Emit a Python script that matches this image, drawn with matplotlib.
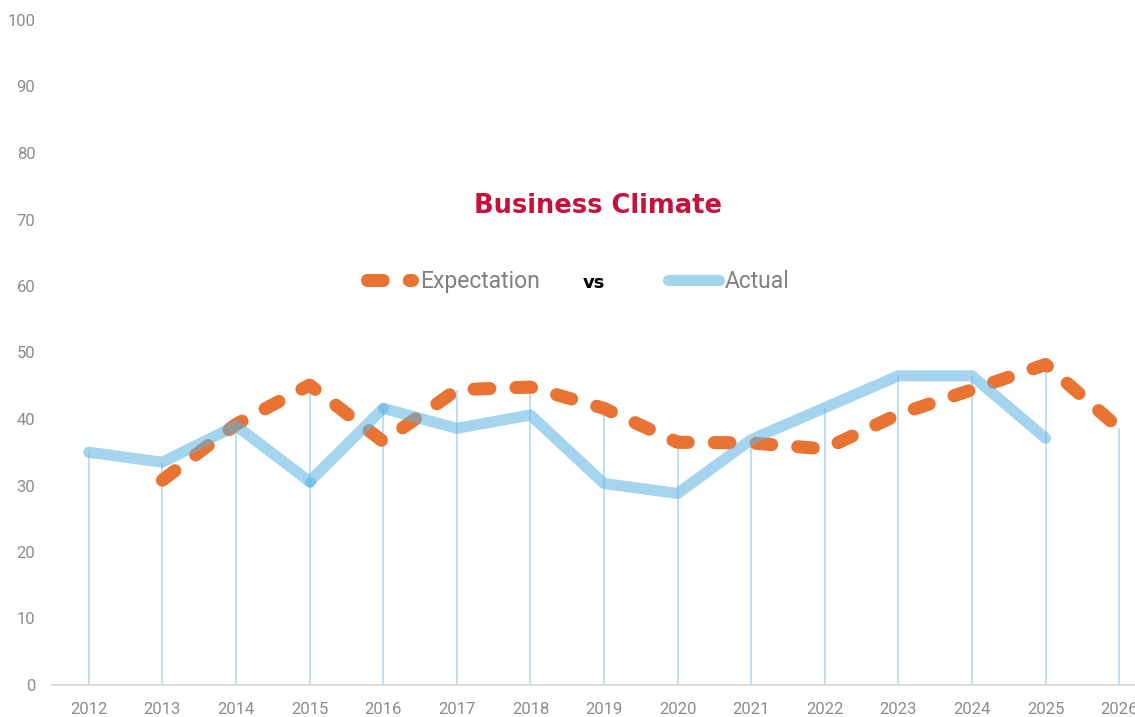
import numpy as np
import matplotlib
matplotlib.use("Agg")
import matplotlib.pyplot as plt
from matplotlib.lines import Line2D

# ---- data ----
years = list(range(2012, 2027))
actual = [35.0, 33.5, 39.0, 30.6, 41.6, 38.6, 40.6, 30.3, 28.8, 36.9, 41.7, 46.5, 46.5, 37.1, np.nan]
expectation = [np.nan, 30.8, 39.2, 45.1, 36.6, 44.4, 44.8, 41.6, 36.5, 36.4, 35.5, 40.7, 44.4, 48.2, 38.6]
highlight_years = [2015, 2016]
y_ticks = list(range(0, 101, 10))
title = "Business Climate"
label_exp = "Expectation"
label_vs = "vs"
label_act = "Actual"

# ---- style ----
ORANGE = "#E97332"
BLUE = "#5BB4E1"
BLUE_ALPHA = 0.55
DROP = "#A9D9EF"
GREY = "#8c8c8c"
TITLE_RED = "#C8103A"
LEG_FONT = ["Roboto", "DejaVu Sans"]

W, H = 1135, 717
fig = plt.figure(figsize=(W / 100, H / 100), dpi=100)
ax_left, ax_right = 52, 1135
ax_bottom, ax_top = 685, 20
ax = fig.add_axes([ax_left / W, 1 - ax_bottom / H, (ax_right - ax_left) / W, (ax_bottom - ax_top) / H])

unit = 73.6  # px per year
x0 = 2011.5
ax.set_xlim(x0, x0 + (ax_right - ax_left) / unit)
ax.set_ylim(0, 100)

x = np.array(years, dtype=float)
a = np.array(actual, dtype=float)
e = np.array(expectation, dtype=float)
top = np.fmax(a, e)

# drop lines
ax.vlines(x, 0, top, colors=DROP, lw=1.1, zorder=1)

# expectation (dashed orange)
lw_e = 9.4
ax.plot(x, e, color=ORANGE, lw=lw_e, dashes=(1.2, 2.0), dash_capstyle="round",
        solid_capstyle="round", zorder=2)

# actual (semi-transparent blue)
ax.plot(x, a, color=BLUE, alpha=BLUE_ALPHA, lw=8.0, solid_capstyle="round",
        solid_joinstyle="round", zorder=3)
hy = [a[years.index(yy)] for yy in highlight_years]
ax.plot(highlight_years, hy, "o", color=BLUE, alpha=BLUE_ALPHA, ms=8.0, mew=0, zorder=4)

# axes styling
for s in ["left", "right", "top"]:
    ax.spines[s].set_visible(False)
ax.spines["bottom"].set_color("#d9d9d9")
ax.spines["bottom"].set_linewidth(1.3)
ax.set_xticks(years)
ax.set_xticklabels([str(yy) for yy in years])
ax.set_yticks(y_ticks)
ax.set_yticklabels([str(t) for t in y_ticks])
ax.tick_params(axis="both", length=0, colors=GREY, labelsize=12)
ax.tick_params(axis="x", pad=12)
ax.tick_params(axis="y", pad=12)
for lab in ax.get_xticklabels() + ax.get_yticklabels():
    lab.set_fontfamily(["Roboto", "DejaVu Sans"])
    lab.set_color(GREY)
ax.set_facecolor("white")
fig.patch.set_facecolor("white")


def fx(px):
    return px / W


def fy(py):
    return 1 - py / H


# title
fig.text(fx(598), fy(213), title, ha="center", va="baseline", color=TITLE_RED,
         fontsize=18.5, fontweight="bold", family=["DejaVu Sans"])

# legend (manual)
fig.add_artist(Line2D([fx(367), fx(412)], [fy(280), fy(280)], transform=fig.transFigure,
                      color=ORANGE, lw=lw_e, dashes=(1.2, 2.0), dash_capstyle="round"))
fig.text(fx(420), fy(288), label_exp, ha="left", va="baseline", color="#808080",
         fontsize=16.5, fontweight="normal", family=LEG_FONT)
fig.text(fx(594), fy(288), label_vs, ha="center", va="baseline", color="black",
         fontsize=13, fontweight="bold", family=["DejaVu Sans"])
fig.add_artist(Line2D([fx(668), fx(719)], [fy(280), fy(280)], transform=fig.transFigure,
                      color=BLUE, alpha=BLUE_ALPHA, lw=8.0, solid_capstyle="round"))
fig.text(fx(725), fy(288), label_act, ha="left", va="baseline", color="#808080",
         fontsize=16.5, fontweight="normal", family=LEG_FONT)

fig.savefig("out.png", dpi=100, facecolor="white")
